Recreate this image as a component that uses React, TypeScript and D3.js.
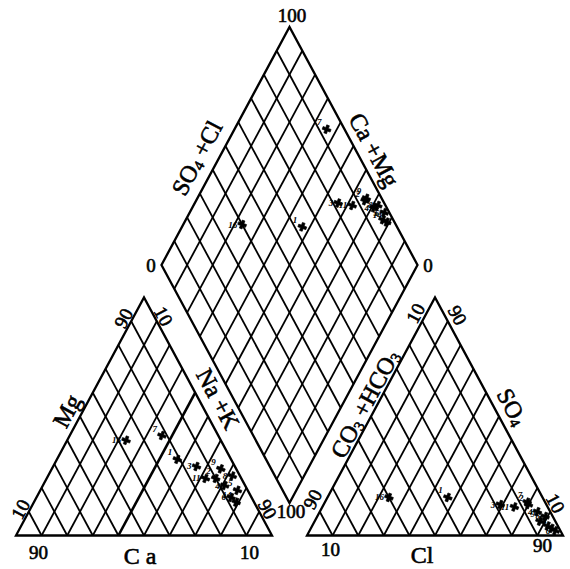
import React, { useEffect, useRef } from 'react';
import { select, scaleLinear, line, symbol, symbolCross, range } from 'd3';

// sample numbers written beside the plotted points
const sampleIds = ['16', '1', '3', '7', '11', '2', '4', '5', '6', '9', '8', '14'];
// cations, % of meq
const ca = [37, 21, 15, 22, 14, 10, 8, 4, 8, 6, 3, 7];
const mg = [40, 32, 29, 42, 24, 24, 21, 19, 16, 28, 25, 14];
const naK = [23, 47, 56, 36, 62, 66, 71, 77, 76, 66, 72, 79];
// anions, % of meq
const hco3 = [60, 37, 18, 7, 13, 7, 5, 4, 2, 6, 3, 3];
const so4 = [16, 16, 13, 14, 12, 13, 10, 4, 2, 6, 8, 3];
const cl = [24, 47, 69, 79, 75, 80, 85, 92, 96, 88, 89, 94];

const gridSteps = range(10, 100, 10);
const lowTick = '10';
const highTick = '90';
const diamondTop = '100';
const diamondSide = '0';

const W = 570;
const H = 569;
const side = 256;
const triH = 238;
const gap = 35;
const baseY = 535.5;
const left0 = 16;
const ang = (Math.atan2(triH, side / 2) * 180) / Math.PI;

const FONT = '"Liberation Serif", "DejaVu Serif", serif';

export default function App() {
  const svgRef = useRef<SVGSVGElement>(null);

  useEffect(() => {
    const svg = select(svgRef.current);
    svg.selectAll('*').remove();

    // percent -> px along the base and up the height
    const fx = scaleLinear().domain([0, 100]).range([0, side]);
    const fy = scaleLinear().domain([0, 100]).range([0, triH]);

    const catPos = (nk: number, m: number): [number, number] => [left0 + fx(nk + m / 2), baseY - fy(m)];
    const anPos = (c: number, s: number): [number, number] => [left0 + side + gap + fx(c + s / 2), baseY - fy(s)];
    const bx = left0 + side + gap / 2;
    const by = baseY - fy((100 * gap) / side);
    // a = SO4+Cl, c = Ca+Mg
    const diaPos = (a: number, c: number): [number, number] => [bx + fx((a - c) / 2), by - fy(a + c)];

    const path = line();
    const g = svg.append('g').attr('fill', 'none').attr('stroke', '#000').attr('stroke-linejoin', 'miter');

    const seg = (p: [number, number], q: [number, number], w = 1.8) =>
      g.append('path').attr('d', path([p, q])).attr('stroke-width', w);

    // Grid //
    gridSteps.forEach(v => {
      seg(catPos(v, 0), catPos(v, 100 - v), v === 40 ? 2.6 : 1.8); // Na+K constant
      seg(catPos(100 - v, 0), catPos(0, 100 - v)); // Ca constant
      seg(anPos(v, 0), anPos(v, 100 - v)); // Cl constant
      seg(anPos(100 - v, 0), anPos(0, 100 - v)); // HCO3 constant
      seg(diaPos(v, 0), diaPos(v, 100));
      seg(diaPos(0, v), diaPos(100, v));
    });

    // Outlines //
    g.append('path')
      .attr('d', path([catPos(0, 0), catPos(100, 0), catPos(0, 100), catPos(0, 0)]) + 'Z')
      .attr('stroke-width', 2.3);
    g.append('path')
      .attr('d', path([anPos(0, 0), anPos(100, 0), anPos(0, 100), anPos(0, 0)]) + 'Z')
      .attr('stroke-width', 2.3);
    g.append('path')
      .attr('d', path([diaPos(0, 0), diaPos(100, 0), diaPos(100, 100), diaPos(0, 100)]) + 'Z')
      .attr('stroke-width', 2.3);

    // Labels //
    const txt = (x: number, y: number, rot: number, size: number, parts: [string, boolean][]) => {
      const t = svg
        .append('text')
        .attr('transform', `translate(${x},${y}) rotate(${rot})`)
        .attr('text-anchor', 'middle')
        .attr('dominant-baseline', 'central')
        .attr('font-family', FONT)
        .attr('font-size', size)
        .attr('fill', '#000')
        .attr('stroke', '#000')
        .attr('stroke-width', 0.6);
      let shifted = false;
      parts.forEach(([s, sub]) => {
        const sp = t.append('tspan').text(s);
        if (sub) {
          sp.attr('font-size', size * 0.62).attr('dy', shifted ? 0 : size * 0.22);
          shifted = true;
        } else {
          sp.attr('dy', shifted ? -size * 0.22 : 0);
          shifted = false;
        }
      });
    };

    const num = 19;
    const lab = 24;
    // diamond
    txt(292, 15, 0, num, [[diamondTop, false]]);
    txt(151, 265, 0, num, [[diamondSide, false]]);
    txt(428, 265, 0, num, [[diamondSide, false]]);
    txt(197, 158, -ang, lab, [['SO', false], ['4', true], [' +Cl', false]]);
    txt(374, 150, ang, lab, [['Ca +Mg', false]]);
    txt(291, 511, 0, num, [[diamondTop, false]]);
    // cation triangle
    txt(123, 318, -ang, num, [[highTick, false]]);
    txt(164, 316, ang, num, [[lowTick, false]]);
    txt(67, 411, -ang, lab, [['Mg', false]]);
    txt(218, 399, ang, lab, [['Na +K', false]]);
    txt(20, 509, -ang, num, [[lowTick, false]]);
    txt(268, 509, ang, num, [[highTick, false]]);
    txt(catPos(10, 0)[0] - 3, 552, 0, num, [[highTick, false]]);
    txt(catPos(90, 0)[0] + 3, 552, 0, num, [[lowTick, false]]);
    txt(140, 556, 0, lab, [['C a', false]]);
    // anion triangle
    txt(415, 313, -ang, num, [[lowTick, false]]);
    txt(458, 315, ang, num, [[highTick, false]]);
    txt(365, 404, -ang, lab, [['CO', false], ['3', true], [' +HCO', false], ['3', true]]);
    txt(512, 407, ang, lab, [['SO', false], ['4', true]]);
    txt(312, 499, -ang, num, [[highTick, false]]);
    txt(556, 503, ang, num, [[lowTick, false]]);
    txt(anPos(10, 0)[0] - 2, 549, 0, num, [[lowTick, false]]);
    txt(anPos(90, 0)[0] + 5, 545, 0, num, [[highTick, false]]);
    txt(422, 555, 0, lab, [['Cl', false]]);

    // Data Points //
    const mark = symbol().type(symbolCross).size(40);
    const pts: { id: string; k: number; p: [number, number] }[] = [];
    sampleIds.forEach((id, i) => {
      pts.push({ id, k: i, p: catPos(naK[i], mg[i]) });
      pts.push({ id, k: i, p: anPos(cl[i], so4[i]) });
      pts.push({ id, k: i, p: diaPos(so4[i] + cl[i], ca[i] + mg[i]) });
    });
    const pg = svg.append('g');
    pg.selectAll('path')
      .data(pts)
      .enter()
      .append('path')
      .attr('transform', d => `translate(${d.p[0]},${d.p[1]}) rotate(20)`)
      .attr('d', mark)
      .attr('fill', '#000')
      .attr('stroke', '#000')
      .attr('stroke-width', 0.6);
    pg.selectAll('text')
      .data(pts)
      .enter()
      .append('text')
      .attr('x', d => d.p[0] - 5)
      .attr('y', d => d.p[1] + (d.k % 2 === 0 ? 3 : -4))
      .attr('text-anchor', 'end')
      .attr('font-family', FONT)
      .attr('font-style', 'italic')
      .attr('font-weight', 'bold')
      .attr('font-size', 9)
      .attr('fill', '#000')
      .text(d => d.id);
  }, []);

  return (
    <div style={{ position: 'absolute', left: 0, top: 0 }}>
      <svg ref={svgRef} width={W} height={H} style={{ display: 'block', background: '#fff' }} />
    </div>
  );
}
